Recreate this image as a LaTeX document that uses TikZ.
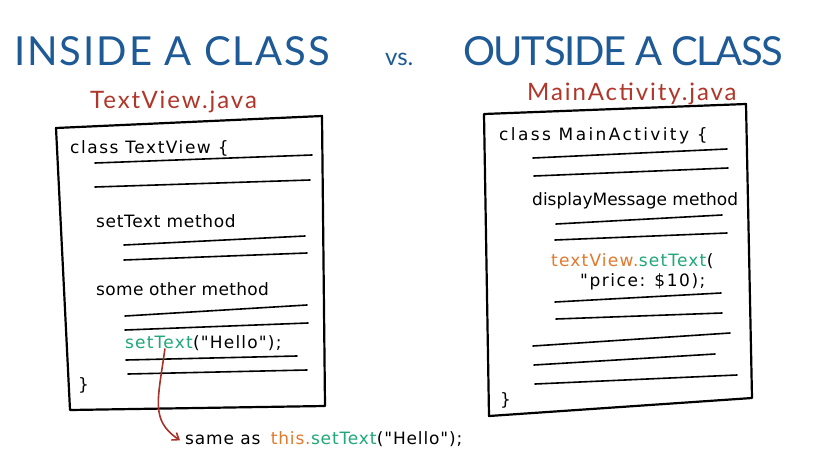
\documentclass[tikz,border=0pt]{standalone}
\usepackage{fontspec}
\setmainfont{Lato}
\newfontfamily\codefont{DejaVu Sans}
\usetikzlibrary{arrows.meta}
\definecolor{titleblue}{HTML}{1E5A96}
\definecolor{filered}{HTML}{B0362A}
\definecolor{codegreen}{HTML}{1FA878}
\definecolor{codeorange}{HTML}{E2782C}
\definecolor{arrowred}{HTML}{A8322A}
\tikzset{
  title/.style={text=titleblue, font=\fontsize{40}{42}\selectfont\addfontfeatures{LetterSpace=#1}, anchor=base west, inner sep=0pt},
  title/.default=5,
  fname/.style={text=filered, font=\fontsize{24}{26}\selectfont\addfontfeatures{LetterSpace=8}, anchor=base west, inner sep=0pt},
  code/.style={text=black, font=\codefont\fontsize{17}{19}\selectfont\addfontfeatures{LetterSpace=#1}, anchor=base west, inner sep=0pt},
  code/.default=0,
  box/.style={draw=black, line width=2.2pt, line join=round},
  rule/.style={draw=black, line width=1.6pt, line cap=round},
  pointer/.style={draw=arrowred, line width=1.6pt, -{Straight Barb[length=6pt,width=9pt]}},
}
\begin{document}
\begin{tikzpicture}[x=1pt,y=-1pt]
\useasboundingbox (0,0) rectangle (832,466);
\fill[white] (0,0) rectangle (832,466);
% titles
\node[title] (t1) at (14,65) {INSIDE A CLASS};
\node[title, font=\fontsize{24}{26}\selectfont] (vs) at (385,65) {vs.};
\node[title=-3.5] (t2) at (463,65) {OUTSIDE A CLASS};
\node[fname] (f1) at (90,108) {TextView.java};
\node[fname] (f2) at (527,100) {MainActivity.java};
% left box
\draw[box] (56,128) -- (322,116) -- (325,406) -- (70,410) -- cycle;
\node[code=9] (l1) at (70,153) {class TextView \{};
\draw[rule] (95,163) -- (312,155);
\draw[rule] (95,187) -- (310,180);
\node[code=4] (l2) at (96,227) {setText method};
\draw[rule] (124,245) -- (305,236);
\draw[rule] (124,260) -- (307,253);
\node[code=2] (l3) at (96,295) {some other method};
\draw[rule] (125,316) -- (307,305);
\draw[rule] (125,330) -- (308,323);
\node[code=7, text=codegreen] (st) at (125,348) {setText};
\node[code=7] (sth) at (st.base east) {("Hello");};
\draw[rule] (126,360) -- (297,356);
\draw[rule] (128,374) -- (307,370);
\node[code] (lb) at (78,390) {\}};
% right box
\draw[box] (484,114) -- (746,104) -- (752,398) -- (489,416) -- cycle;
\node[code=14] (r1) at (499,140) {class MainActivity \{};
\draw[rule] (533,158) -- (727,149);
\draw[rule] (534,176) -- (728,168);
\node[code] (r2) at (532,205) {displayMessage method};
\draw[rule] (556,224) -- (722,215);
\draw[rule] (555,240) -- (727,233);
\node[code=7, text=codeorange] (tv) at (551,266) {textView.};
\node[code=7, text=codegreen] (tvs) at (tv.base east) {setText};
\node[code=7] (tvp) at (tvs.base east) {(};
\node[code=9] (pr) at (580,286) {"price: \$10);};
\draw[rule] (555,302) -- (721,293);
\draw[rule] (556,319) -- (722,313);
\draw[rule] (533,346) -- (730,333);
\draw[rule] (534,365) -- (715,354);
\draw[rule] (535,384) -- (737,375);
\node[code] (rb) at (500,405) {\}};
% bottom note
\node[code=5] (same) at (185,444) {same as};
\node[code=5, text=codeorange] (this) at ([xshift=10pt]same.base east) {this.};
\node[code=5, text=codegreen] (thst) at (this.base east) {setText};
\node[code=5] (thh) at (thst.base east) {("Hello");};
\draw[pointer] ([xshift=6pt]st.south) .. controls (158,400) and (150,420) .. ([xshift=-5pt,yshift=-1pt]same.west);
\end{tikzpicture}
\end{document}
